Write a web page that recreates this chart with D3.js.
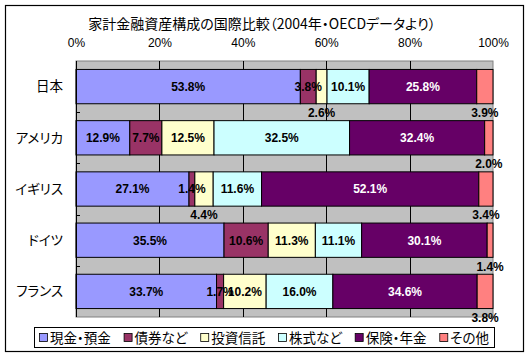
<!DOCTYPE html>
<html><head><meta charset="utf-8">
<script src="https://cdn.jsdelivr.net/npm/d3@7/dist/d3.min.js"></script>
<style>
body{margin:0;background:#fff;}
svg text{font-feature-settings:"palt";}
</style>
</head><body>
<svg id="c" width="530" height="356"></svg>
<script>
const title = "家計金融資産構成の国際比較（2004年・OECDデータより）";
const categories = ["日本","アメリカ","イギリス","ドイツ","フランス"];
const seriesNames = ["現金・預金","債券など","投資信託","株式など","保険・年金","その他"];
const cash      = [53.8, 12.9, 27.1, 35.5, 33.7];
const bonds     = [3.8, 7.7, 1.4, 10.6, 1.7];
const funds     = [2.6, 12.5, 4.4, 11.3, 10.2];
const stocks    = [10.1, 32.5, 11.6, 11.1, 16.0];
const insurance = [25.8, 32.4, 52.1, 30.1, 34.6];
const other     = [3.9, 2.0, 3.4, 1.4, 3.8];
const tickValues = [0, 20, 40, 60, 80, 100];
const colors = ["#9999FF","#993366","#FFFFCC","#CCFFFF","#660066","#FF8080"];
const labelColors = ["#000","#000","#000","#000","#fff","#000"];
// labels that were moved below their bar in the reference
const labelsBelow = ["日本|投資信託","イギリス|投資信託","日本|その他","アメリカ|その他","イギリス|その他","ドイツ|その他","フランス|その他"];

const seriesValues = [cash, bonds, funds, stocks, insurance, other];
const rows = categories.map((c,i)=>{
  const r = {cat:c};
  seriesNames.forEach((s,j)=> r[s] = seriesValues[j][i]);
  return r;
});
const stacked = d3.stack().keys(seriesNames)(rows);

const svg = d3.select("#c");
const JP = "'Noto Sans CJK JP', sans-serif";

// outer frame
svg.append("rect").attr("x",5.5).attr("y",5.5).attr("width",518).attr("height",346)
  .attr("fill","#fff").attr("stroke","#000").attr("stroke-width",1.2);

const pl = 76, pr = 493, pt = 61, pb = 317;
const x = d3.scaleLinear().domain([0,100]).range([pl,pr]);
const y = d3.scaleBand().domain(categories).range([pt,pb]).paddingInner(0.33).paddingOuter(0.165);

// plot area
svg.append("rect").attr("x",pl).attr("y",pt).attr("width",pr-pl).attr("height",pb-pt)
  .attr("fill","#C0C0C0").attr("stroke","#808080").attr("stroke-width",1);

// gridlines
svg.append("g").selectAll("line").data(tickValues.filter(v=>v>0 && v<100)).join("line")
  .attr("x1",d=>Math.round(x(d))+0.5).attr("x2",d=>Math.round(x(d))+0.5)
  .attr("y1",pt).attr("y2",pb).attr("stroke","#000").attr("stroke-width",1);

// top axis labels
const ax = d3.axisTop(x).tickValues(tickValues).tickFormat(d=>d+"%").tickSize(0).tickPadding(0);
const axG = svg.append("g").attr("transform",`translate(0,${pt})`).call(ax);
axG.select(".domain").remove();
axG.selectAll("text").attr("y",-14).attr("font-family","'Liberation Sans', Arial, sans-serif")
  .attr("font-size",12).attr("fill","#000");

// bars
const layers = svg.append("g").selectAll("g").data(stacked).join("g")
  .attr("fill",(d,i)=>colors[i]);
layers.selectAll("rect").data(d=>d).join("rect")
  .attr("x",d=>x(d[0])).attr("width",d=>x(d[1])-x(d[0]))
  .attr("y",d=>y(d.data.cat)).attr("height",y.bandwidth())
  .attr("stroke","#000").attr("stroke-width",1);

// left axis line
svg.append("line").attr("x1",pl+0.5).attr("x2",pl+0.5).attr("y1",pt).attr("y2",pb)
  .attr("stroke","#000");
// category tick marks at band boundaries
const bounds = d3.range(1,categories.length).map(i=>pt + i*y.step());
svg.append("g").selectAll("line").data(bounds).join("line")
  .attr("x1",pl).attr("x2",pl+4).attr("y1",d=>Math.round(d)+0.5).attr("y2",d=>Math.round(d)+0.5)
  .attr("stroke","#000");

// category labels
svg.append("g").selectAll("text").data(categories).join("text")
  .attr("x",63).attr("y",d=>y(d)+y.bandwidth()/2).attr("dy","0.36em")
  .attr("text-anchor","end").attr("font-family",JP).attr("font-size",13.5).attr("fill","#000")
  .text(d=>d);

// data labels
stacked.forEach((layer,j)=>{
  svg.append("g").selectAll("text").data(layer).join("text")
    .attr("x",d=>x((d[0]+d[1])/2))
    .attr("y",d=>{
      const below = labelsBelow.includes(d.data.cat+"|"+seriesNames[j]);
      return below ? y(d.data.cat)+y.bandwidth()+9 : y(d.data.cat)+y.bandwidth()/2;
    })
    .attr("dy","0.36em").attr("text-anchor","middle")
    .attr("font-family","'Liberation Sans', Arial, sans-serif").attr("font-weight","bold")
    .attr("font-size",12)
    .attr("fill",d=> labelsBelow.includes(d.data.cat+"|"+seriesNames[j]) ? "#000" : labelColors[j])
    .text(d=>(d[1]-d[0]).toFixed(1)+"%");
});

// title
svg.append("text").attr("x",262).attr("y",24).attr("dy","0.36em").attr("text-anchor","middle")
  .attr("font-family",JP).attr("font-size",14).attr("fill","#000").text(title);

// legend
const lx = 34, ly = 327, lw = 460, lh = 20;
svg.append("rect").attr("x",lx+0.5).attr("y",ly+0.5).attr("width",lw).attr("height",lh)
  .attr("fill","#fff").attr("stroke","#000");
const lg = svg.append("g");
const items = lg.selectAll("g").data(seriesNames).join("g");
items.append("rect").attr("width",8).attr("height",8).attr("y",ly+6.5)
  .attr("fill",(d,i)=>colors[i]).attr("stroke","#000").attr("stroke-width",0.8);
items.append("text").attr("x",11).attr("y",ly+lh/2+1).attr("dy","0.36em")
  .attr("font-family",JP).attr("font-size",13.5).attr("fill","#000").text(d=>d);
const widths = [];
items.each(function(){ widths.push(11 + d3.select(this).select("text").node().getComputedTextLength()); });
const totalW = d3.sum(widths);
const gap = (lw - 10 - totalW)/(seriesNames.length-1);
let cx = lx + 5;
items.each(function(d,i){
  d3.select(this).attr("transform",`translate(${cx},0)`);
  d3.select(this).select("rect").attr("x",0.5);
  cx += widths[i] + gap;
});
</script>
</body></html>
